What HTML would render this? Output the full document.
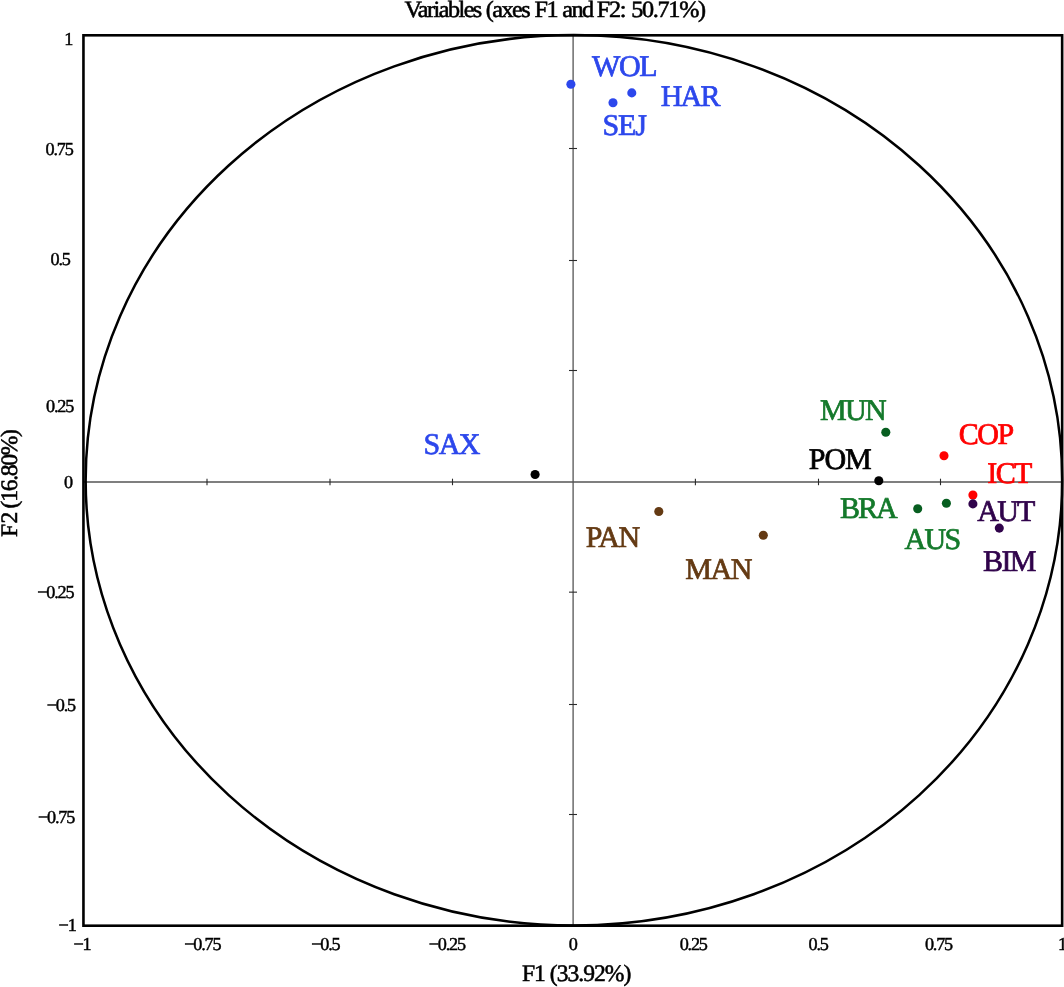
<!DOCTYPE html>
<html lang="en">
<head>
<meta charset="utf-8">
<title>Variables (axes F1 and F2: 50.71%)</title>
<style>
html,body{margin:0;padding:0;background:#fff;}
body{width:1064px;height:987px;overflow:hidden;font-family:"Liberation Serif",serif;}
svg{display:block;will-change:transform;}
text{font-family:"Liberation Serif",serif;white-space:pre;text-rendering:geometricPrecision;}
</style>
</head>
<body>
<svg width="1064" height="987" viewBox="0 0 1064 987">
<line x1="573.1" y1="35.3" x2="573.1" y2="925.7" stroke="#555" stroke-width="1.3"/>
<line x1="83.45" y1="482.0" x2="1062.15" y2="482.0" stroke="#555" stroke-width="1.3"/>
<line x1="207.0" y1="478.7" x2="207.0" y2="485.2" stroke="#2a2a2a" stroke-width="1.1"/>
<line x1="330.0" y1="478.7" x2="330.0" y2="485.2" stroke="#2a2a2a" stroke-width="1.1"/>
<line x1="452.5" y1="478.7" x2="452.5" y2="485.2" stroke="#2a2a2a" stroke-width="1.1"/>
<line x1="695.4" y1="478.7" x2="695.4" y2="485.2" stroke="#2a2a2a" stroke-width="1.1"/>
<line x1="818.5" y1="478.7" x2="818.5" y2="485.2" stroke="#2a2a2a" stroke-width="1.1"/>
<line x1="940.5" y1="478.7" x2="940.5" y2="485.2" stroke="#2a2a2a" stroke-width="1.1"/>
<line x1="569" y1="148.5" x2="577" y2="148.5" stroke="#2a2a2a" stroke-width="1.1"/>
<line x1="569" y1="260.5" x2="577" y2="260.5" stroke="#2a2a2a" stroke-width="1.1"/>
<line x1="569" y1="370.5" x2="577" y2="370.5" stroke="#2a2a2a" stroke-width="1.1"/>
<line x1="569" y1="592.15" x2="577" y2="592.15" stroke="#2a2a2a" stroke-width="1.1"/>
<line x1="569" y1="704.5" x2="577" y2="704.5" stroke="#2a2a2a" stroke-width="1.1"/>
<line x1="569" y1="814.5" x2="577" y2="814.5" stroke="#2a2a2a" stroke-width="1.1"/>
<ellipse cx="573.95" cy="480.3" rx="488.3" ry="445.2" fill="none" stroke="#000" stroke-width="2.5"/>
<rect x="83.45" y="35.3" width="978.70" height="890.40" fill="none" stroke="#000" stroke-width="2.6"/>
<circle cx="570.9" cy="84.3" r="4.55" fill="#2c47ec"/>
<circle cx="631.8" cy="92.9" r="4.55" fill="#2c47ec"/>
<circle cx="613" cy="102.7" r="4.55" fill="#2c47ec"/>
<circle cx="535.1" cy="474.5" r="4.55" fill="#000"/>
<circle cx="885.8" cy="432.3" r="4.55" fill="#075e20"/>
<circle cx="878.8" cy="480.7" r="4.55" fill="#000"/>
<circle cx="944" cy="455.7" r="4.55" fill="#ff0000"/>
<circle cx="972.9" cy="495.0" r="4.55" fill="#ff0000"/>
<circle cx="917.7" cy="508.7" r="4.55" fill="#075e20"/>
<circle cx="946.4" cy="503.2" r="4.55" fill="#075e20"/>
<circle cx="972.9" cy="503.9" r="4.55" fill="#30034b"/>
<circle cx="999.3" cy="528.1" r="4.55" fill="#30034b"/>
<circle cx="658.8" cy="511.5" r="4.55" fill="#643a13"/>
<circle cx="763.3" cy="535.2" r="4.55" fill="#643a13"/>
<text transform="translate(404.60 17.10) scale(1.035 1)" font-size="23.4" letter-spacing="-1.50" fill="#000" stroke="#000" stroke-width="0.55">Variables</text>
<text transform="translate(485.80 17.10) scale(1.035 1)" font-size="23.4" letter-spacing="-1.50" fill="#000" stroke="#000" stroke-width="0.55">(axes</text>
<text transform="translate(534.60 17.10) scale(1.035 1)" font-size="23.4" letter-spacing="-1.50" fill="#000" stroke="#000" stroke-width="0.55">F1</text>
<text transform="translate(562.30 17.10) scale(1.035 1)" font-size="23.4" letter-spacing="-1.50" fill="#000" stroke="#000" stroke-width="0.55">and</text>
<text transform="translate(596.80 17.10) scale(1.035 1)" font-size="23.4" letter-spacing="-1.26" fill="#000" stroke="#000" stroke-width="0.55">F2:</text>
<text transform="translate(631.20 17.10) scale(1.035 1)" font-size="23.4" letter-spacing="-1.26" fill="#000" stroke="#000" stroke-width="0.55">50.71%)</text>
<text x="522.00" y="981.40" font-size="23.6" letter-spacing="-1.00" fill="#000" stroke="#000" stroke-width="0.55">F1 (33.92%)</text>
<text x="64.30" y="44.80" font-size="18.2" letter-spacing="-1.20" fill="#000" stroke="#000" stroke-width="0.45">1</text>
<text x="45.50" y="154.90" font-size="18.2" letter-spacing="-1.20" fill="#000" stroke="#000" stroke-width="0.45">0.75</text>
<text x="50.60" y="264.80" font-size="18.2" letter-spacing="-1.20" fill="#000" stroke="#000" stroke-width="0.45">0.5</text>
<text x="46.10" y="411.50" font-size="18.2" letter-spacing="-1.20" fill="#000" stroke="#000" stroke-width="0.45">0.25</text>
<text x="63.90" y="487.80" font-size="18.2" letter-spacing="-1.20" fill="#000" stroke="#000" stroke-width="0.45">0</text>
<text x="37.30" y="597.90" font-size="18.2" letter-spacing="-1.20" fill="#000" stroke="#000" stroke-width="0.45">−0.25</text>
<text x="46.80" y="710.80" font-size="18.2" letter-spacing="-1.20" fill="#000" stroke="#000" stroke-width="0.45">−0.5</text>
<text x="38.00" y="823.00" font-size="18.2" letter-spacing="-1.20" fill="#000" stroke="#000" stroke-width="0.45">−0.75</text>
<text x="58.60" y="930.70" font-size="18.2" letter-spacing="-1.20" fill="#000" stroke="#000" stroke-width="0.45">−1</text>
<text x="73.50" y="949.70" font-size="18.2" letter-spacing="-1.20" fill="#000" stroke="#000" stroke-width="0.45">−1</text>
<text x="184.30" y="949.70" font-size="18.2" letter-spacing="-1.20" fill="#000" stroke="#000" stroke-width="0.45">−0.75</text>
<text x="311.20" y="949.70" font-size="18.2" letter-spacing="-1.20" fill="#000" stroke="#000" stroke-width="0.45">−0.5</text>
<text x="428.80" y="949.70" font-size="18.2" letter-spacing="-1.20" fill="#000" stroke="#000" stroke-width="0.45">−0.25</text>
<text x="568.80" y="949.70" font-size="18.2" letter-spacing="-1.20" fill="#000" stroke="#000" stroke-width="0.45">0</text>
<text x="679.70" y="949.70" font-size="18.2" letter-spacing="-1.20" fill="#000" stroke="#000" stroke-width="0.45">0.25</text>
<text x="808.50" y="949.70" font-size="18.2" letter-spacing="-1.20" fill="#000" stroke="#000" stroke-width="0.45">0.5</text>
<text x="924.90" y="949.70" font-size="18.2" letter-spacing="-1.20" fill="#000" stroke="#000" stroke-width="0.45">0.75</text>
<text x="1057.90" y="949.70" font-size="18.2" letter-spacing="-1.20" fill="#000" stroke="#000" stroke-width="0.45">1</text>
<text x="592.10" y="75.85" font-size="30.0" letter-spacing="-1.40" fill="#2c47ec" stroke="#2c47ec" stroke-width="0.7">WOL</text>
<text x="660.70" y="105.55" font-size="30.0" letter-spacing="-1.80" fill="#2c47ec" stroke="#2c47ec" stroke-width="0.7">HAR</text>
<text x="602.50" y="134.65" font-size="30.0" letter-spacing="-1.10" fill="#2c47ec" stroke="#2c47ec" stroke-width="0.7">SEJ</text>
<text x="423.50" y="454.25" font-size="30.0" letter-spacing="-1.50" fill="#2c47ec" stroke="#2c47ec" stroke-width="0.7">SAX</text>
<text x="820.10" y="420.25" font-size="30.0" letter-spacing="-1.70" fill="#14792b" stroke="#14792b" stroke-width="0.7">MUN</text>
<text x="808.80" y="469.35" font-size="30.0" letter-spacing="-1.10" fill="#000" stroke="#000" stroke-width="0.7">POM</text>
<text x="958.70" y="444.25" font-size="30.0" letter-spacing="-1.40" fill="#ff0000" stroke="#ff0000" stroke-width="0.7">COP</text>
<text x="987.30" y="483.05" font-size="30.0" letter-spacing="-1.60" fill="#ff0000" stroke="#ff0000" stroke-width="0.7">ICT</text>
<text x="840.10" y="518.15" font-size="30.0" letter-spacing="-2.00" fill="#14792b" stroke="#14792b" stroke-width="0.7">BRA</text>
<text x="904.60" y="548.55" font-size="30.0" letter-spacing="-1.75" fill="#14792b" stroke="#14792b" stroke-width="0.7">AUS</text>
<text x="977.30" y="521.05" font-size="30.0" letter-spacing="-1.80" fill="#30034b" stroke="#30034b" stroke-width="0.7">AUT</text>
<text x="983.10" y="571.45" font-size="30.0" letter-spacing="-1.70" fill="#30034b" stroke="#30034b" stroke-width="0.7">BIM</text>
<text x="585.80" y="546.65" font-size="30.0" letter-spacing="-1.45" fill="#643a13" stroke="#643a13" stroke-width="0.7">PAN</text>
<text x="685.30" y="579.05" font-size="30.0" letter-spacing="-1.50" fill="#643a13" stroke="#643a13" stroke-width="0.7">MAN</text>
<text transform="translate(17.1 537) rotate(-90)" font-size="23.6" letter-spacing="-1.3" fill="#000" stroke="#000" stroke-width="0.55">F<tspan dx="1.7">2</tspan> (16.80%)</text>
</svg>
</body>
</html>
